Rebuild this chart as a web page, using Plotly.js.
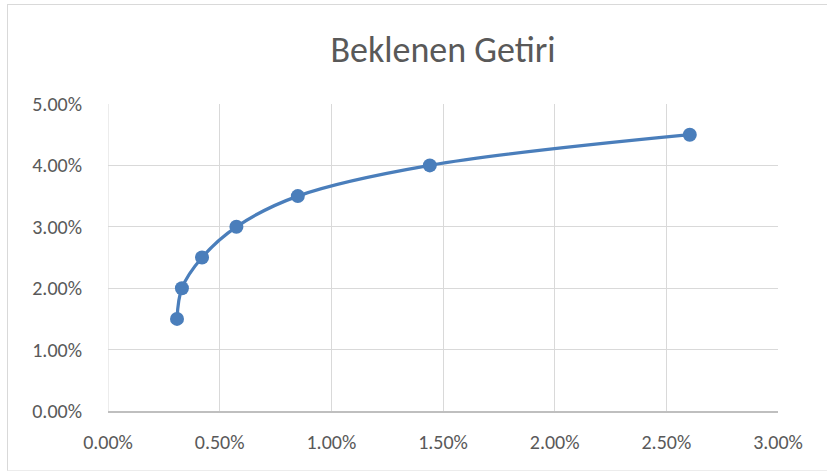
<!DOCTYPE html>
<html>
<head>
<meta charset="utf-8">
<script src="https://cdn.plot.ly/plotly-3.0.1.min.js"></script>
<style>
  html, body { margin: 0; padding: 0; background: #fff; overflow: hidden; }
  #frame { position: absolute; left: 7px; top: 4px; width: 830px; height: 465px;
           border-left: 1px solid #d9d9d9; border-top: 1px solid #d9d9d9; border-bottom: 1px solid #ececec; }
  #chart { width: 815px; height: 465px; }
</style>
</head>
<body>
<div id="frame"><div id="chart"></div></div>
<script>
const riskValues = [0.00309, 0.00331, 0.00421, 0.00575, 0.00850, 0.01441, 0.02605];
const returnValues = [0.015, 0.020, 0.025, 0.030, 0.035, 0.040, 0.045];
const chartTitle = "Beklenen Getiri";

const FONT = "Carlito, Lato, 'Liberation Sans', sans-serif";
const trace = {
  x: riskValues,
  y: returnValues,
  type: 'scatter',
  mode: 'lines+markers',
  line: { shape: 'spline', smoothing: 1, color: '#4a7ebb', width: 3.25 },
  marker: { size: 14, color: '#4a7ebb' },
  hoverinfo: 'x+y'
};

const layout = {
  width: 815, height: 465,
  margin: { l: 100, r: 45, t: 99, b: 59 },
  paper_bgcolor: '#fff',
  plot_bgcolor: '#fff',
  showlegend: false,
  font: { family: FONT, color: '#595959', size: 20 },
  title: {
    text: chartTitle,
    font: { family: FONT, size: 36, color: '#595959' },
    x: 0.5, xref: 'paper', xanchor: 'center',
    y: 0.905, yref: 'container', yanchor: 'middle'
  },
  xaxis: {
    range: [0, 0.03],
    dtick: 0.005, tick0: 0,
    tickformat: '.2%',
    showgrid: true, gridcolor: '#d9d9d9', gridwidth: 1,
    zeroline: false,
    showline: true, linecolor: '#bfbfbf', linewidth: 1.5,
    ticks: 'outside', ticklen: 12, tickcolor: 'rgba(0,0,0,0)',
    tickfont: { family: FONT, size: 20, color: '#595959' },
    fixedrange: true
  },
  yaxis: {
    range: [0, 0.05],
    dtick: 0.01, tick0: 0,
    tickformat: '.2%',
    showgrid: true, gridcolor: '#d9d9d9', gridwidth: 1,
    zeroline: false,
    showline: false,
    ticks: 'outside', ticklen: 21, tickcolor: 'rgba(0,0,0,0)',
    tickfont: { family: FONT, size: 20, color: '#595959' },
    fixedrange: true
  },
  shapes: [{
    type: 'line', xref: 'x', yref: 'paper', x0: 0, x1: 0, y0: 0, y1: 1,
    line: { color: '#d9d9d9', width: 1 }, layer: 'below'
  }]
};

Plotly.newPlot('chart', [trace], layout, { displayModeBar: false, staticPlot: true });
</script>
</body>
</html>
